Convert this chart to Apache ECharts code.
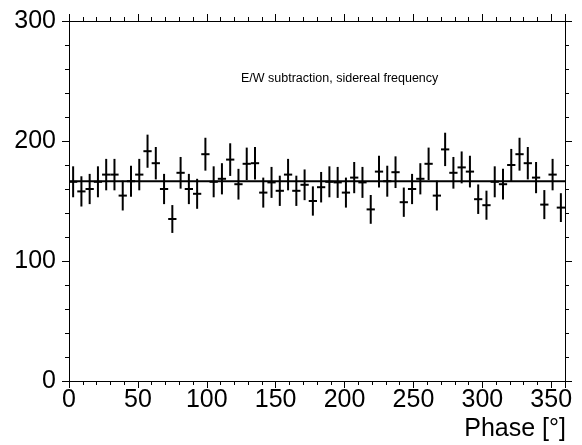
<!DOCTYPE html>
<html>
<head>
<meta charset="utf-8">
<script src="https://cdn.jsdelivr.net/npm/echarts@6/dist/echarts.min.js"></script>
<style>
html,body{margin:0;padding:0;background:#fff;}
#chart{width:582px;height:445px;}
</style>
</head>
<body>
<div id="chart"></div>
<script>
var phaseCenters = [3,9,15,21,27,33,39,45,51,57,63,69,75,81,87,93,99,105,111,117,123,129,135,141,147,153,159,165,171,177,183,189,195,201,207,213,219,225,231,237,243,249,255,261,267,273,279,285,291,297,303,309,315,321,327,333,339,345,351,357];
var binHalfWidth = 3;
var counts = [166,158,160,166,172,172,154.5,166.5,172,191.5,181.5,160,135,173.5,160,156,189,166,168.5,184.5,164,181,181.5,157,165.5,158.5,172,158.5,163.5,150,161.5,166,165.5,157,169.5,165.5,143,174.5,166.5,174,149,160,168.5,181,154.5,193,173.5,178,174.5,151.5,146.5,166,164,180,189,181.5,169.5,147,172,144.5];
var errors = [12.9,12.6,12.6,12.9,13.1,13.1,12.4,12.9,13.1,13.8,13.5,12.6,11.6,13.2,12.6,12.5,13.7,12.9,13.0,13.6,12.8,13.5,13.5,12.5,12.9,12.6,13.1,12.6,12.8,12.2,12.7,12.9,12.9,12.5,13.0,12.9,12.0,13.2,12.9,13.2,12.2,12.6,13.0,13.5,12.4,13.9,13.2,13.3,13.2,12.3,12.1,12.9,12.8,13.4,13.7,13.5,13.0,12.1,13.1,12.0];
var fitValue = 166.5;
var fitRange = [0, 360];
var xTicks = [0,50,100,150,200,250,300,350];
var yTicks = [0,100,200,300];
var titleText = 'E/W subtraction, sidereal frequency';
var xAxisTitle = 'Phase [°]';

var pts = phaseCenters.map(function(x,i){ return [x, counts[i], errors[i], binHalfWidth]; });

var chart = echarts.init(document.getElementById('chart'), null, {renderer:'canvas'});
var font = 'Liberation Sans, Arial, Helvetica, sans-serif';
var axisCommon = {
  axisLine:{show:true, onZero:false, lineStyle:{color:'#000', width:1}},
  axisTick:{show:true, inside:false, length:7, lineStyle:{color:'#000', width:1}},
  minorTick:{show:true, splitNumber:5, length:4, lineStyle:{color:'#000', width:1}},
  splitLine:{show:false},
  minorSplitLine:{show:false}
};
chart.setOption({
  animation:false,
  backgroundColor:'#fff',
  grid:{left:69, right:17, top:21, bottom:64, containLabel:false},
  xAxis:[
    Object.assign({type:'value', position:'bottom', min:0, max:360, interval:50,
      axisLabel:{show:true, fontSize:25, color:'#000', fontFamily:font, margin:7,
        formatter:function(v){ return xTicks.indexOf(v)>=0 ? String(v) : ''; }}}, axisCommon),
    Object.assign({type:'value', position:'top', min:0, max:360, interval:50,
      axisLabel:{show:false}}, axisCommon)
  ],
  yAxis:[
    Object.assign({type:'value', position:'left', min:0, max:300, interval:100,
      axisLabel:{show:true, fontSize:25, color:'#000', fontFamily:font, margin:13,
        formatter:function(v){ return yTicks.indexOf(v)>=0 ? String(v) : ''; }}}, axisCommon),
    Object.assign({type:'value', position:'right', min:0, max:300, interval:100,
      axisLabel:{show:false}}, axisCommon)
  ],
  graphic:[
    {type:'text', right:16, top:417, style:{text:xAxisTitle, fill:'#000', font:'25px ' + font, textAlign:'right'}},
    {type:'text', left:241, top:72, style:{text:titleText, fill:'#000', font:'12.5px ' + font}}
  ],
  series:[
    {
      type:'custom',
      xAxisIndex:0, yAxisIndex:0,
      data:pts,
      clip:false,
      renderItem:function(params, api){
        var x = api.value(0), y = api.value(1), e = api.value(2), w = api.value(3);
        var top = api.coord([x, y+e]), bot = api.coord([x, y-e]);
        var l = api.coord([x-w, y]), r = api.coord([x+w, y]);
        return {type:'group', children:[
          {type:'line', shape:{x1:top[0], y1:top[1], x2:bot[0], y2:bot[1]}, style:{stroke:'#000', lineWidth:2}},
          {type:'line', shape:{x1:l[0], y1:l[1], x2:r[0], y2:r[1]}, style:{stroke:'#000', lineWidth:2}}
        ]};
      }
    },
    {
      type:'line',
      xAxisIndex:0, yAxisIndex:0,
      data:[[fitRange[0], fitValue],[fitRange[1], fitValue]],
      symbol:'none',
      lineStyle:{color:'#000', width:2}
    }
  ]
});
</script>
</body>
</html>
